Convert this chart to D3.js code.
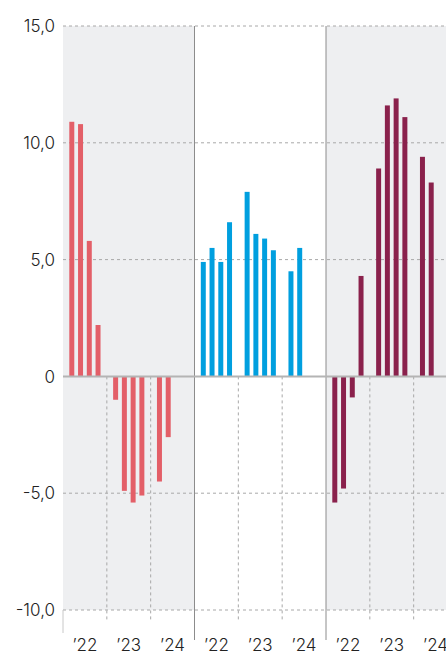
<!DOCTYPE html>
<html>
<head>
<meta charset="utf-8">
<script src="https://cdn.jsdelivr.net/npm/d3@7"></script>
<style>
  body { margin: 0; background: #fff; overflow: hidden; }
  svg text { font-family: Inter, "Noto Sans", sans-serif; font-weight: 300; fill: #222; }
</style>
</head>
<body>
<div id="chart"></div>
<script>
const years = ['\u201922', '\u201923', '\u201924']
const quarters = ['Q1', 'Q2', 'Q3', 'Q4']
const panels = ['a', 'b', 'c']
const colors = ['#e35f68', '#009fdf', '#8a214c']
// quarterly values, 2022 Q1 .. 2024 Q2
const seriesA = [10.9, 10.8, 5.8, 2.2, -1.0, -4.9, -5.4, -5.1, -4.5, -2.6]
const seriesB = [4.9, 5.5, 4.9, 6.6, 7.9, 6.1, 5.9, 5.4, 4.5, 5.5]
const seriesC = [-5.4, -4.8, -0.9, 4.3, 8.9, 11.6, 11.9, 11.1, 9.4, 8.3]
const yTicks = [-10, -5, 0, 5, 10, 15]

const width = 446, height = 653
const left = 63, panelW = 131.5
const svg = d3.select('#chart').append('svg').attr('width', width).attr('height', height)

const x = d3.scaleBand().domain(panels).range([left, left + panelW * 3])
const xYear = d3.scaleBand().domain(years).range([0, x.bandwidth()])
const xQ = d3.scaleBand().domain(quarters).range([0, xYear.bandwidth()])
  .paddingInner(0.43).paddingOuter(0.72)
const y = d3.scaleLinear().domain([-10, 15]).range([610, 26])

const fmt = v => d3.format('.1f')(v).replace('.', ',').replace('\u2212', '-')

// grey panel backgrounds
svg.selectAll('rect.bg').data(['a', 'c']).join('rect')
  .attr('class', 'bg')
  .attr('x', d => x(d)).attr('y', y(15))
  .attr('width', x.bandwidth()).attr('height', y(-10) - y(15))
  .attr('fill', '#eeeff1')

// horizontal grid
svg.selectAll('line.grid').data(yTicks.filter(d => d !== 0)).join('line')
  .attr('x1', left).attr('x2', width)
  .attr('y1', d => y(d)).attr('y2', d => y(d))
  .attr('stroke', '#a8a8a8').attr('stroke-dasharray', '3,3')

// y labels
svg.selectAll('text.yl').data(yTicks).join('text')
  .attr('x', 55).attr('y', d => y(d)).attr('dy', '0.36em')
  .attr('text-anchor', 'end').attr('font-size', 17)
  .text(d => d === 0 ? '0' : fmt(d))

// year dividers (dashed, below zero)
const dividers = []
panels.forEach(p => years.slice(1).forEach(yr => dividers.push(x(p) + xYear(yr))))
svg.selectAll('line.yd').data(dividers).join('line')
  .attr('x1', d => d).attr('x2', d => d)
  .attr('y1', y(0)).attr('y2', 622)
  .attr('stroke', '#a8a8a8').attr('stroke-dasharray', '3,3')

// left axis stub
svg.append('line').attr('x1', left).attr('x2', left).attr('y1', y(-10)).attr('y2', 633)
  .attr('stroke', '#c8c8c8')

// bars
const allSeries = [seriesA, seriesB, seriesC]
panels.forEach((p, i) => {
  const data = allSeries[i].map((v, k) => ({
    year: years[Math.floor(k / 4)], q: quarters[k % 4], v
  }))
  svg.append('g').selectAll('rect').data(data).join('rect')
    .attr('x', d => x(p) + xYear(d.year) + xQ(d.q))
    .attr('width', xQ.bandwidth())
    .attr('y', d => y(Math.max(0, d.v)))
    .attr('height', d => Math.abs(y(d.v) - y(0)))
    .attr('fill', colors[i])
})

// panel separators
svg.selectAll('line.sep').data(['b', 'c']).join('line')
  .attr('x1', d => x(d)).attr('x2', d => x(d))
  .attr('y1', y(15)).attr('y2', 640)
  .attr('stroke', '#8c8c8c')

// zero line
svg.append('line').attr('x1', left).attr('x2', width)
  .attr('y1', y(0)).attr('y2', y(0))
  .attr('stroke', '#b4b4b4').attr('stroke-width', 2)

// year labels
panels.forEach(p => {
  svg.append('g').selectAll('text').data(years).join('text')
    .attr('x', d => x(p) + xYear(d) + xYear.bandwidth() / 2)
    .attr('y', 651)
    .attr('text-anchor', 'middle').attr('font-size', 17)
    .text(d => d)
})
</script>
</body>
</html>
